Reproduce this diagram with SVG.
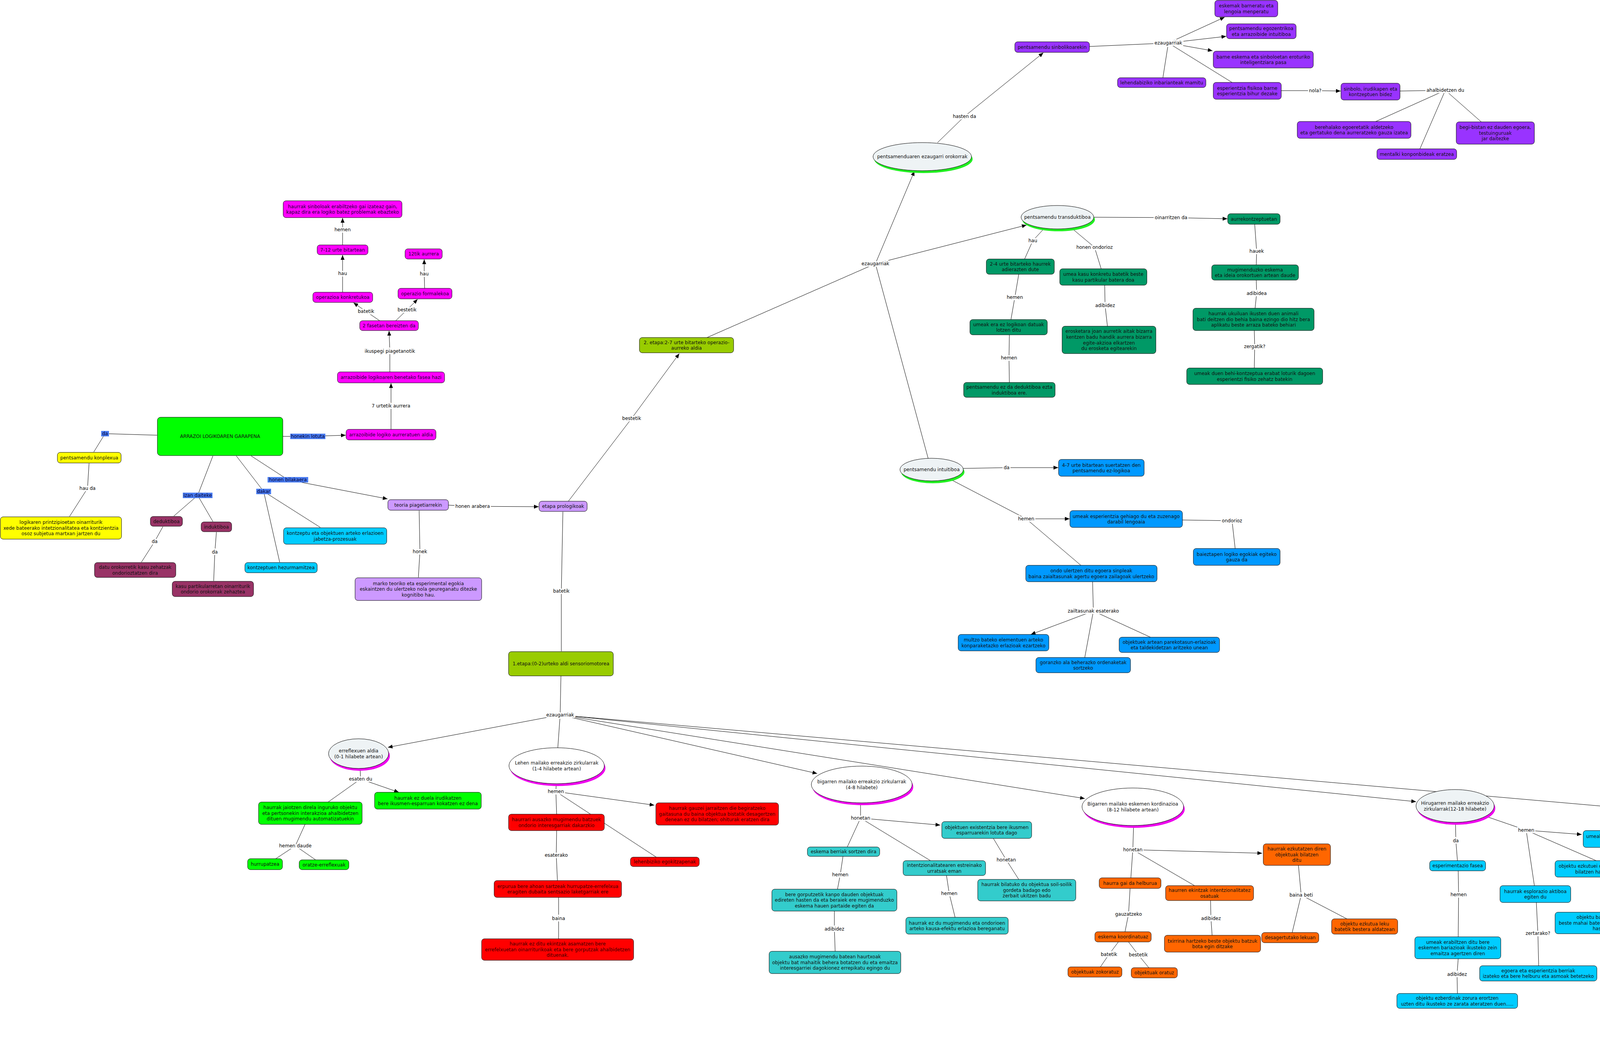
<svg xmlns="http://www.w3.org/2000/svg" width="5131" height="2703" viewBox="0 0 5131 2703">
<style>
text{font-family:"DejaVu Sans","Liberation Sans",sans-serif;font-size:12px;text-anchor:middle;fill:#111}
.b{stroke:#000;stroke-width:1}
.c path{fill:none;stroke:#000;stroke-width:1}
.c path.a{marker-end:url(#ar)}
.lb{stroke:#fff;stroke-width:7;stroke-linejoin:round;paint-order:stroke;fill:#000}
.bl{fill:#4a7cf0}
.blt{fill:#00003a}
.g1{fill:#00ff00}.yl{fill:#ffff00}.mr{fill:#993366}.cy{fill:#00ccff}.lp{fill:#cc99ff}.mg{fill:#ff00ff}
.ol{fill:#99cc00}.pu{fill:#9933ff}.dg{fill:#009966}.bu{fill:#0099ff}.rd{fill:#ff0000}.tl{fill:#33cccc}.or{fill:#ff6600}
.el{fill:#eef3f5;stroke:#000;stroke-width:1}.ew{fill:#fff;stroke:#000;stroke-width:1}
.sg{fill:#22ee22}.sm{fill:#ee00ee}
.mt{fill:#1a0033}.rt{fill:#3a0000}
</style>
<defs>
<marker id="ar" markerWidth="12" markerHeight="10" refX="12" refY="5" orient="auto" markerUnits="userSpaceOnUse"><path d="M0,0 L12,5 L0,10 z" fill="#000"/></marker>
</defs>
<rect x="0" y="0" width="5131" height="2703" fill="#fff"/>
<g id="connectors" class="c">
<path d="M402,1114 L269,1110"/><path d="M269,1110 L240,1157"/>
<path d="M228,1186 L224,1250"/><path d="M224,1250 L178,1322"/>
<path d="M724,1117 L788,1117"/><path class="a" d="M788,1117 L885,1114"/>
<path d="M545,1167 L506,1268"/><path d="M506,1268 L445,1321"/><path d="M506,1268 L545,1335"/>
<path d="M417,1348 L396,1386"/><path d="M396,1386 L362,1439"/>
<path d="M554,1362 L550,1413"/><path d="M550,1413 L547,1487"/>
<path d="M605,1167 L675,1258"/><path d="M675,1258 L716,1439"/><path d="M675,1258 L820,1350"/>
<path d="M643,1167 L737,1228"/><path class="a" d="M737,1228 L992,1277"/>
<path d="M1148,1293 L1210,1296"/><path class="a" d="M1210,1296 L1379,1297"/>
<path d="M1073,1307 L1075,1412"/><path d="M1075,1412 L1071,1478"/>
<path d="M1455,1283 L1617,1071"/><path class="a" d="M1617,1071 L1739,905"/>
<path d="M1441,1310 L1437,1513"/><path d="M1437,1513 L1437,1667"/>
<path d="M1001,1099 L1001,1039"/><path class="a" d="M1001,1039 L1001,981"/>
<path d="M998,952 L998,899"/><path class="a" d="M998,899 L996,847"/>
<path d="M972,821 L937,797"/><path class="a" d="M937,797 L905,775"/>
<path d="M1013,821 L1042,793"/><path class="a" d="M1042,793 L1069,766"/>
<path d="M877,748 L877,700"/><path class="a" d="M877,700 L877,653"/>
<path d="M1087,738 L1086,701"/><path class="a" d="M1086,701 L1086,664"/>
<path d="M877,627 L877,588"/><path class="a" d="M877,588 L877,558"/>
<path d="M1810,864 L2241,675"/><path class="a" d="M2241,675 L2341,438"/><path class="a" d="M2241,675 L2628,576"/><path d="M2241,675 L2376,1173"/>
<path d="M2400,365 L2469,298"/><path class="a" d="M2469,298 L2671,135"/>
<path d="M2789,119 L2991,110"/><path class="a" d="M2991,110 L3135,44"/><path class="a" d="M2991,110 L3139,93"/><path class="a" d="M2991,110 L3104,130"/><path d="M2991,110 L2977,199"/><path d="M2991,110 L3154,211"/>
<path d="M3280,232 L3367,232"/><path class="a" d="M3367,232 L3432,233"/>
<path d="M3584,233 L3700,231"/><path d="M3700,231 L3522,311"/><path d="M3700,231 L3635,381"/><path d="M3700,231 L3792,312"/>
<path d="M2800,556 L2998,557"/><path class="a" d="M2998,557 L3142,560"/>
<path d="M2671,587 L2644,616"/><path d="M2644,616 L2623,663"/>
<path d="M2747,587 L2802,633"/><path d="M2802,633 L2819,688"/>
<path d="M2608,702 L2598,761"/><path d="M2598,761 L2588,818"/>
<path d="M2584,857 L2583,916"/><path d="M2583,916 L2584,979"/>
<path d="M2828,730 L2829,782"/><path d="M2829,782 L2835,835"/>
<path d="M3212,574 L3217,643"/><path d="M3217,643 L3216,678"/>
<path d="M3216,717 L3217,751"/><path d="M3217,751 L3213,789"/>
<path d="M3211,846 L3212,887"/><path d="M3212,887 L3211,942"/>
<path d="M2466,1199 L2577,1197"/><path class="a" d="M2577,1197 L2709,1197"/>
<path d="M2437,1229 L2627,1328"/><path class="a" d="M2627,1328 L2738,1328"/><path d="M2627,1328 L2767,1447"/>
<path d="M3027,1331 L3154,1333"/><path d="M3154,1333 L3162,1404"/>
<path d="M2797,1489 L2799,1564"/><path class="a" d="M2799,1564 L2639,1624"/><path d="M2799,1564 L2777,1683"/><path d="M2799,1564 L2945,1631"/>
<path d="M1436,1730 L1434,1830"/><path class="a" d="M1434,1830 L993,1913"/><path d="M1434,1830 L1428,1914"/><path class="a" d="M1434,1830 L2092,1980"/><path class="a" d="M1434,1830 L2777,2044"/><path class="a" d="M1434,1830 L3625,2052"/><path class="a" d="M1434,1830 L4382,2088"/>
<path d="M922,1967 L923,1994"/><path d="M923,1994 L840,2053"/><path class="a" d="M923,1994 L1021,2028"/>
<path d="M781,2110 L756,2165"/><path d="M756,2165 L706,2198"/><path d="M756,2165 L808,2201"/>
<path d="M1424,2006 L1423,2026"/><path d="M1423,2026 L1425,2084"/><path class="a" d="M1423,2026 L1675,2061"/><path d="M1423,2026 L1680,2194"/>
<path d="M1425,2126 L1424,2189"/><path d="M1424,2189 L1427,2254"/>
<path d="M1430,2297 L1430,2351"/><path d="M1430,2351 L1430,2403"/>
<path d="M2203,2055 L2203,2094"/><path class="a" d="M2203,2094 L2407,2112"/><path d="M2203,2094 L2169,2168"/><path d="M2203,2094 L2382,2203"/>
<path d="M2543,2146 L2576,2201"/><path d="M2576,2201 L2608,2251"/>
<path d="M2158,2192 L2151,2239"/><path d="M2151,2239 L2144,2276"/>
<path d="M2423,2241 L2430,2287"/><path d="M2430,2287 L2445,2348"/>
<path d="M2136,2332 L2136,2378"/><path d="M2136,2378 L2138,2435"/>
<path d="M2902,2113 L2900,2175"/><path class="a" d="M2900,2175 L3231,2184"/><path d="M2900,2175 L2895,2247"/><path d="M2900,2175 L3058,2267"/>
<path d="M2893,2274 L2889,2340"/><path d="M2889,2340 L2880,2385"/>
<path d="M2863,2411 L2839,2443"/><path d="M2839,2443 L2817,2475"/>
<path d="M2889,2411 L2914,2444"/><path d="M2914,2444 L2941,2477"/>
<path d="M3099,2305 L3100,2351"/><path d="M3100,2351 L3103,2394"/>
<path d="M3324,2215 L3331,2291"/><path d="M3331,2291 L3308,2387"/><path d="M3331,2291 L3448,2352"/>
<path d="M3726,2105 L3727,2152"/><path d="M3727,2152 L3731,2203"/>
<path d="M3733,2229 L3734,2290"/><path d="M3734,2290 L3733,2398"/>
<path d="M3733,2454 L3730,2494"/><path d="M3730,2494 L3731,2543"/>
<path d="M3811,2092 L3907,2125"/><path class="a" d="M3907,2125 L4049,2136"/><path d="M3907,2125 L3928,2267"/><path d="M3907,2125 L4086,2203"/>
<path d="M4146,2245 L4150,2281"/><path d="M4150,2281 L4153,2335"/>
<path d="M3933,2310 L3937,2389"/><path d="M3937,2389 L3939,2472"/>
<path d="M4507,2147 L4505,2205"/><path d="M4505,2205 L4506,2269"/><path class="a" d="M4505,2205 L4701,2267"/><path class="a" d="M4505,2205 L4894,2239"/>
<path d="M4506,2296 L4505,2355"/><path d="M4505,2355 L4500,2406"/>
<path d="M4758,2296 L4769,2334"/><path d="M4769,2334 L4773,2393"/>
<path d="M4775,2435 L4775,2476"/><path d="M4775,2476 L4777,2517"/>
<path d="M4778,2560 L4778,2606"/><path d="M4778,2606 L4778,2660"/>
<path d="M5013,2272 L5012,2320"/><path d="M5012,2320 L5013,2356"/>
<path d="M5013,2424 L5012,2484"/><path d="M5012,2484 L5013,2547"/>
<path d="M5014,2586 L5014,2624"/><path d="M5014,2624 L5015,2662"/>
</g>
<g id="labels">
<text class="lb" x="224" y="1254">hau da</text>
<text class="lb" x="396" y="1390">da</text>
<text class="lb" x="550" y="1417">da</text>
<text class="lb" x="1075" y="1416">honek</text>
<text class="lb" x="1210" y="1300">honen arabera</text>
<text class="lb" x="1617" y="1075">bestetik</text>
<text class="lb" x="1437" y="1517">batetik</text>
<text class="lb" x="1001" y="1043">7 urtetik aurrera</text>
<text class="lb" x="998" y="903">ikuspegi piagetanotik</text>
<text class="lb" x="937" y="801">batetik</text>
<text class="lb" x="1042" y="797">bestetik</text>
<text class="lb" x="877" y="704">hau</text>
<text class="lb" x="1086" y="705">hau</text>
<text class="lb" x="877" y="592">hemen</text>
<text class="lb" x="2241" y="679">ezaugarriak</text>
<text class="lb" x="2469" y="302">hasten da</text>
<text class="lb" x="2991" y="114">ezaugarriak</text>
<text class="lb" x="3367" y="236">nola?</text>
<text class="lb" x="3700" y="235">ahalbidetzen du</text>
<text class="lb" x="2998" y="561">oinarritzen da</text>
<text class="lb" x="2644" y="620">hau</text>
<text class="lb" x="2802" y="637">honen ondorioz</text>
<text class="lb" x="2598" y="765">hemen</text>
<text class="lb" x="2583" y="920">hemen</text>
<text class="lb" x="2829" y="786">adibidez</text>
<text class="lb" x="3217" y="647">hauek</text>
<text class="lb" x="3217" y="755">adibidea</text>
<text class="lb" x="3212" y="891">zergatik?</text>
<text class="lb" x="2577" y="1201">da</text>
<text class="lb" x="2627" y="1332">hemen</text>
<text class="lb" x="3154" y="1337">ondorioz</text>
<text class="lb" x="2799" y="1568">zailtasunak esaterako</text>
<text class="lb" x="1434" y="1834">ezaugarriak</text>
<text class="lb" x="923" y="1998">esaten du</text>
<text class="lb" x="756" y="2169">hemen daude</text>
<text class="lb" x="1423" y="2030">hemen</text>
<text class="lb" x="1424" y="2193">esaterako</text>
<text class="lb" x="1430" y="2355">baina</text>
<text class="lb" x="2203" y="2098">honetan</text>
<text class="lb" x="2576" y="2205">honetan</text>
<text class="lb" x="2151" y="2243">hemen</text>
<text class="lb" x="2430" y="2291">hemen</text>
<text class="lb" x="2136" y="2382">adibidez</text>
<text class="lb" x="2900" y="2179">honetan</text>
<text class="lb" x="2889" y="2344">gauzatzeko</text>
<text class="lb" x="2839" y="2447">batetik</text>
<text class="lb" x="2914" y="2448">bestetik</text>
<text class="lb" x="3100" y="2355">adibidez</text>
<text class="lb" x="3331" y="2295">baina beti</text>
<text class="lb" x="3727" y="2156">da</text>
<text class="lb" x="3734" y="2294">hemen</text>
<text class="lb" x="3730" y="2498">adibidez</text>
<text class="lb" x="3907" y="2129">hemen</text>
<text class="lb" x="4150" y="2285">adibidez</text>
<text class="lb" x="3937" y="2393">zertarako?</text>
<text class="lb" x="4505" y="2209">fase honetan</text>
<text class="lb" x="4505" y="2359">hau da</text>
<text class="lb" x="4769" y="2338">honek</text>
<text class="lb" x="4775" y="2480">esaterako</text>
<text class="lb" x="4778" y="2610">honi</text>
<text class="lb" x="5012" y="2324">honetan</text>
<text class="lb" x="5012" y="2488">hau gertatzen da</text>
<text class="lb" x="5014" y="2628">ondorioz</text>
<rect class="bl" x="259" y="1103" width="20" height="14"/><text class="blt" x="269" y="1114">da</text>
<rect class="bl" x="743" y="1110" width="90" height="14"/><text class="blt" x="788" y="1121">honekin lotuta</text>
<rect class="bl" x="468" y="1261" width="76" height="14"/><text class="blt" x="506" y="1272">izan daiteke</text>
<rect class="bl" x="656" y="1251" width="38" height="14"/><text class="blt" x="675" y="1262">dakar</text>
<rect class="bl" x="685" y="1221" width="104" height="14"/><text class="blt" x="737" y="1232">honen bilakaera</text>
</g>
<g id="N1"><rect class="b g1" x="403" y="1068" width="321" height="98" rx="8"/><text x="563.5" y="1121">ARRAZOI LOGIKOAREN GARAPENA</text></g>
<g id="N2"><rect class="b yl" x="147" y="1158" width="163" height="27" rx="7"/><text x="228.5" y="1176">pentsamendu konplexua</text></g>
<g id="N3"><rect class="b yl" x="1" y="1323" width="310" height="57" rx="7"/><text x="156" y="1341.2">logikaren printzipioetan oinarriturik</text><text x="156" y="1355.8">xede bateerako intetzionalitatea eta kontzientzia</text><text x="156" y="1370.4">osoz subjetua martxan jartzen du</text></g>
<g id="N4"><rect class="b mr" x="385" y="1322" width="82" height="25" rx="7"/><text x="426" y="1339">deduktiboa</text></g>
<g id="N5"><rect class="b mr" x="515" y="1336" width="78" height="25" rx="7"/><text x="554" y="1353">induktiboa</text></g>
<g id="N6"><rect class="b mr" x="242" y="1440" width="208" height="38" rx="7"/><text x="346" y="1456">datu orokorretik kasu zehatzak</text><text x="346" y="1470.6">ondorioztatzen dira</text></g>
<g id="N7"><rect class="b mr" x="441" y="1488" width="208" height="39" rx="7"/><text x="545" y="1504.5">kasu partikularretan oinarriturik</text><text x="545" y="1519.1">ondorio orokorrak zehaztea</text></g>
<g id="N8"><rect class="b cy" x="627" y="1440" width="185" height="26" rx="7"/><text x="719.5" y="1457">kontzeptuen hezurmamitzea</text></g>
<g id="N9"><rect class="b cy" x="726" y="1351" width="264" height="42" rx="7"/><text x="858" y="1369">kontzeptu eta objektuen arteko erlazioen</text><text x="858" y="1383.6">jabetza-prozesuak</text></g>
<g id="N10"><rect class="b lp" x="993" y="1279" width="155" height="27" rx="7"/><text x="1070.5" y="1297">teoria piagetiarrekin</text></g>
<g id="N11"><rect class="b lp" x="909" y="1479" width="324" height="58" rx="7"/><text x="1071" y="1497.7">marko teoriko eta esperimental egokia</text><text x="1071" y="1512.3">eskaintzen du ulertzeko nola geureganatu ditezke</text><text x="1071" y="1526.9">kognitibo hau.</text></g>
<g id="N12"><rect class="b lp" x="1380" y="1283" width="123" height="26" rx="7"/><text x="1441.5" y="1300">etapa prologikoak</text></g>
<g id="M1"><rect class="b mg" x="886" y="1099" width="230" height="27" rx="7"/><text class="mt" x="1001" y="1117">arrazoibide logiko aurreratuen aldia</text></g>
<g id="M2"><rect class="b mg" x="864" y="952" width="274" height="28" rx="7"/><text class="mt" x="1001" y="970">arrazoibide logikoaren benetako fasea hazi</text></g>
<g id="M3"><rect class="b mg" x="921" y="821" width="150" height="25" rx="7"/><text class="mt" x="996" y="838">2 fasetan bereizten da</text></g>
<g id="M4"><rect class="b mg" x="801" y="748" width="153" height="26" rx="7"/><text class="mt" x="877.5" y="765">operazioa konkretukoa</text></g>
<g id="M5"><rect class="b mg" x="1019" y="738" width="138" height="27" rx="7"/><text class="mt" x="1088" y="756">operazio formalekoa</text></g>
<g id="M6"><rect class="b mg" x="812" y="627" width="130" height="25" rx="7"/><text class="mt" x="877" y="644">7-12 urte bitartean</text></g>
<g id="M7"><rect class="b mg" x="1037" y="637" width="95" height="26" rx="7"/><text class="mt" x="1084.5" y="654">12tik aurrera</text></g>
<g id="M8"><rect class="b mg" x="725" y="514" width="304" height="43" rx="7"/><text class="mt" x="877" y="532.5">haurrak sinboloak erabiltzeko gai izateaz gain,</text><text class="mt" x="877" y="547.1">kapaz dira era logiko batez problemak ebazteko</text></g>
<g id="S2"><rect class="b ol" x="1637" y="864" width="241" height="39" rx="7"/><text x="1757.5" y="880.5">2. etapa:2-7 urte bitarteko operazio-</text><text x="1757.5" y="895.1">aurreko aldia</text></g>
<g id="S1"><rect class="b ol" x="1302" y="1668" width="268" height="62" rx="7"/><text x="1436" y="1703">1.etapa:(0-2)urteko aldi sensoriomotorea</text></g>
<g id="P0"><ellipse class="sg" cx="2364" cy="407" rx="126" ry="36"/><ellipse class="el" cx="2361" cy="401" rx="126" ry="36"/><text x="2361" y="405">pentsamenduaren ezaugarri orokorrak</text></g>
<g id="P1"><rect class="b pu" x="2598" y="107" width="191" height="27" rx="7"/><text x="2693.5" y="125">pentsamendu sinbolikoarekin</text></g>
<g id="P2"><rect class="b pu" x="3110" y="1" width="161" height="42" rx="7"/><text x="3190.5" y="19">eskemak barneratu eta</text><text x="3190.5" y="33.6">lengoia menperatu</text></g>
<g id="P3"><rect class="b pu" x="3140" y="61" width="178" height="38" rx="7"/><text x="3229" y="77">pentsamendu egozentrikoa</text><text x="3229" y="91.6">eta arrazoibide intuitiboa</text></g>
<g id="P4"><rect class="b pu" x="3106" y="131" width="256" height="43" rx="7"/><text x="3234" y="149.5">barne eskema eta sinboloetan eroturiko</text><text x="3234" y="164.1">inteligentziara pasa</text></g>
<g id="P5"><rect class="b pu" x="2861" y="199" width="226" height="25" rx="7"/><text x="2974" y="216">lehendabiziko inbarianteak mamitu</text></g>
<g id="P6"><rect class="b pu" x="3106" y="211" width="174" height="43" rx="7"/><text x="3193" y="229.5">esperientzia fisikoa barne</text><text x="3193" y="244.1">esperientzia bihur dezake</text></g>
<g id="P7"><rect class="b pu" x="3433" y="213" width="151" height="43" rx="7"/><text x="3508.5" y="231.5">sinbolo, irudikapen eta</text><text x="3508.5" y="246.1">kontzeptuen bidez</text></g>
<g id="P8"><rect class="b pu" x="3321" y="311" width="291" height="43" rx="7"/><text x="3466.5" y="329.5">berehalako egoeretatik aldetzeko</text><text x="3466.5" y="344.1">eta gertatuko dena aurreratzeko gauza izatea</text></g>
<g id="P9"><rect class="b pu" x="3525" y="381" width="204" height="27" rx="7"/><text x="3627" y="399">mentalki konponbideak eratzea</text></g>
<g id="P10"><rect class="b pu" x="3728" y="312" width="200" height="57" rx="7"/><text x="3828" y="330.2">begi-bistan ez dauden egoera,</text><text x="3828" y="344.8">testuinguruak</text><text x="3828" y="359.4">jar daitezke</text></g>
<g id="T0"><ellipse class="sg" cx="2710" cy="562" rx="93" ry="30"/><ellipse class="el" cx="2707" cy="556" rx="93" ry="30"/><text x="2707" y="560">pentsamendu transduktiboa</text></g>
<g id="T1"><rect class="b dg" x="3143" y="547" width="134" height="27" rx="7"/><text x="3210" y="565">aurrekontzeptuetan</text></g>
<g id="T2"><rect class="b dg" x="3102" y="678" width="222" height="39" rx="7"/><text x="3213" y="694.5">mugimenduzko eskema</text><text x="3213" y="709.1">eta ideia orokortuen artean daude</text></g>
<g id="T3"><rect class="b dg" x="3054" y="789" width="310" height="57" rx="7"/><text x="3209" y="807.2">haurrak ukuiluan ikusten duen animali</text><text x="3209" y="821.8">bati deitzen dio behia baina ezingo dio hitz bera</text><text x="3209" y="836.4">aplikatu beste arraza bateko behiari</text></g>
<g id="T4"><rect class="b dg" x="3038" y="942" width="348" height="42" rx="7"/><text x="3212" y="960">umeak duen behi-kontzeptua erabat loturik dagoen</text><text x="3212" y="974.6">esperientzi fisiko zehatz batekin</text></g>
<g id="T5"><rect class="b dg" x="2525" y="663" width="174" height="39" rx="7"/><text x="2612" y="679.5">2-4 urte bitarteko haurrek</text><text x="2612" y="694.1">adierazten dute</text></g>
<g id="T6"><rect class="b dg" x="2483" y="818" width="198" height="39" rx="7"/><text x="2582" y="834.5">umeak era ez logikoan datuak</text><text x="2582" y="849.1">lotzen ditu</text></g>
<g id="T7"><rect class="b dg" x="2467" y="979" width="234" height="38" rx="7"/><text x="2584" y="995">pentsamendu ez da deduktiboa ezta</text><text x="2584" y="1009.6">induktiboa ere.</text></g>
<g id="T8"><rect class="b dg" x="2713" y="688" width="223" height="42" rx="7"/><text x="2824.5" y="706">umea kasu konkretu batetik beste</text><text x="2824.5" y="720.6">kasu partikular batera doa</text></g>
<g id="T9"><rect class="b dg" x="2719" y="835" width="240" height="70" rx="7"/><text x="2839" y="852.4">erosketara joan aurretik aitak bizarra</text><text x="2839" y="867">kentzen badu handik aurrera bizarra</text><text x="2839" y="881.6">egite-akzioa elkartzen</text><text x="2839" y="896.2">du erosketa egitearekin</text></g>
<g id="I0"><ellipse class="sg" cx="2388" cy="1208" rx="81" ry="29"/><ellipse class="el" cx="2385" cy="1202" rx="81" ry="29"/><text x="2385" y="1206">pentsamendu intuitiboa</text></g>
<g id="I1"><rect class="b bu" x="2710" y="1176" width="219" height="43" rx="7"/><text x="2819.5" y="1194.5">4-7 urte bitartean suertatzen den</text><text x="2819.5" y="1209.1">pentsamendu ez-logikoa</text></g>
<g id="I2"><rect class="b bu" x="2739" y="1307" width="288" height="43" rx="7"/><text x="2883" y="1325.5">umeak esperientzia gehiago du eta zuzenago</text><text x="2883" y="1340.1">darabil lengoaia</text></g>
<g id="I3"><rect class="b bu" x="3055" y="1404" width="222" height="43" rx="7"/><text x="3166" y="1422.5">baieztapen logiko egokiak egiteko</text><text x="3166" y="1437.1">gauza da</text></g>
<g id="I4"><rect class="b bu" x="2626" y="1447" width="336" height="42" rx="7"/><text x="2794" y="1465">ondo ulertzen ditu egoera sinpleak</text><text x="2794" y="1479.6">baina zaialtasunak agertu egoera zailagoak ulertzeko</text></g>
<g id="I5"><rect class="b bu" x="2453" y="1624" width="232" height="42" rx="7"/><text x="2569" y="1642">multzo bateko elementuen arteko</text><text x="2569" y="1656.6">konparaketazko erlazioak ezartzeko</text></g>
<g id="I6"><rect class="b bu" x="2652" y="1683" width="242" height="39" rx="7"/><text x="2773" y="1699.5">goranzko ala beherazko ordenaketak</text><text x="2773" y="1714.1">sortzeko</text></g>
<g id="I7"><rect class="b bu" x="2865" y="1631" width="257" height="39" rx="7"/><text x="2993.5" y="1647.5">objektuek artean parekotasun-erlazioak</text><text x="2993.5" y="1662.1">eta taldekidetzan aritzeko unean</text></g>
<g id="E1"><ellipse class="sm" cx="921" cy="1935" rx="77" ry="38"/><ellipse class="el" cx="918" cy="1929" rx="77" ry="38"/><text x="918" y="1926">erreflexuen aldia</text><text x="918" y="1940.6">(0-1 hilabete artean)</text></g>
<g id="E2"><rect class="b g1" x="662" y="2053" width="265" height="57" rx="7"/><text x="794.5" y="2071.2">haurrak jaiotzen direla inguruko objektu</text><text x="794.5" y="2085.8">eta pertsonekin interakzioa ahalbidetzen</text><text x="794.5" y="2100.4">dituen mugimendu automatizatuekin</text></g>
<g id="E3"><rect class="b g1" x="959" y="2028" width="273" height="43" rx="7"/><text x="1095.5" y="2046.5">haurrak ez duela irudikatzen</text><text x="1095.5" y="2061.1">bere ikusmen-esparruan kokatzen ez dena</text></g>
<g id="E4"><rect class="b g1" x="634" y="2198" width="89" height="28" rx="7"/><text x="678.5" y="2216">hurrupatzea</text></g>
<g id="E5"><rect class="b g1" x="766" y="2201" width="127" height="25" rx="7"/><text x="829.5" y="2218">oratze-erreflexuak</text></g>
<g id="L1"><ellipse class="sm" cx="1428" cy="1966" rx="122" ry="46"/><ellipse class="ew" cx="1425" cy="1960" rx="122" ry="46"/><text x="1425" y="1957">Lehen mailako erreakzio zirkularrak</text><text x="1425" y="1971.6">(1-4 hilabete artean)</text></g>
<g id="L2"><rect class="b rd" x="1302" y="2084" width="245" height="42" rx="7"/><text class="rt" x="1424.5" y="2102">haurrari ausazko mugimendu batzuek</text><text class="rt" x="1424.5" y="2116.6">ondorio interesgarriak dakarzkio</text></g>
<g id="L3"><rect class="b rd" x="1265" y="2254" width="326" height="43" rx="7"/><text class="rt" x="1428" y="2272.5">erpurua bere ahoan sartzeak hurrupatze-errefelxua</text><text class="rt" x="1428" y="2287.1">eragiten dubaita sentsazio laketgarriak ere</text></g>
<g id="L4"><rect class="b rd" x="1233" y="2403" width="389" height="55" rx="7"/><text class="rt" x="1427.5" y="2420.2">haurrak ez ditu ekintzak asamatzen bere</text><text class="rt" x="1427.5" y="2434.8">errefelxuetan oinarriturikoak eta bere gorputzak ahalbidetzen</text><text class="rt" x="1427.5" y="2449.4">dituenak.</text></g>
<g id="L5"><rect class="b rd" x="1679" y="2055" width="314" height="57" rx="7"/><text class="rt" x="1836" y="2073.2">haurrak gauzei jarraitzen die begiratzeko</text><text class="rt" x="1836" y="2087.8">gaitasuna du baina objektua bistatik desagertzen</text><text class="rt" x="1836" y="2102.4">denean ez du bilatzen; ohiturak eratzen dira</text></g>
<g id="L6"><rect class="b rd" x="1614" y="2194" width="176" height="24" rx="7"/><text class="rt" x="1702" y="2210">lehenbiziko egokitzapenak</text></g>
<g id="B1"><ellipse class="sm" cx="2209" cy="2014" rx="129" ry="47"/><ellipse class="ew" cx="2206" cy="2008" rx="129" ry="47"/><text x="2206" y="2005">bigarren mailako erreakzio zirkularrak</text><text x="2206" y="2019.6">(4-8 hilabete)</text></g>
<g id="B2"><rect class="b tl" x="2067" y="2168" width="185" height="24" rx="7"/><text x="2159.5" y="2184">eskema berriak sortzen dira</text></g>
<g id="B3"><rect class="b tl" x="2312" y="2203" width="211" height="38" rx="7"/><text x="2417.5" y="2219">intentzionalitatearen estreinako</text><text x="2417.5" y="2233.6">urratsak eman</text></g>
<g id="B4"><rect class="b tl" x="2411" y="2103" width="230" height="43" rx="7"/><text x="2526" y="2121.5">objektuen existentzia bere ikusmen</text><text x="2526" y="2136.1">esparruarekin lotuta dago</text></g>
<g id="B5"><rect class="b tl" x="2503" y="2251" width="251" height="55" rx="7"/><text x="2628.5" y="2268.2">haurrak bilatuko du objektua soil-soilik</text><text x="2628.5" y="2282.8">gordeta badago edo</text><text x="2628.5" y="2297.4">zerbait ukitzen badu</text></g>
<g id="B6"><rect class="b tl" x="1976" y="2276" width="320" height="56" rx="7"/><text x="2136" y="2293.7">bere gorputzetik kanpo dauden objektuak</text><text x="2136" y="2308.3">edireten hasten da eta beraiek ere mugimenduzko</text><text x="2136" y="2322.9">eskema hauen partaide egiten da</text></g>
<g id="B7"><rect class="b tl" x="2319" y="2348" width="262" height="43" rx="7"/><text x="2450" y="2366.5">haurrak ez du mugimendu eta ondorioen</text><text x="2450" y="2381.1">arteko kausa-efektu erlazioa bereganatu</text></g>
<g id="B8"><rect class="b tl" x="1969" y="2435" width="337" height="57" rx="7"/><text x="2137.5" y="2453.2">ausazko mugimendu batean haurtxoak</text><text x="2137.5" y="2467.8">objektu bat mahaitik behera botatzen du eta emaitza</text><text x="2137.5" y="2482.4">interesgarriei dagokionez errepikatu egingo du</text></g>
<g id="C1"><ellipse class="sm" cx="2903" cy="2071" rx="130" ry="48"/><ellipse class="ew" cx="2900" cy="2065" rx="130" ry="48"/><text x="2900" y="2062">Bigarren mailako eskemen kordinazioa</text><text x="2900" y="2076.6">(8-12 hilabete artean)</text></g>
<g id="C2"><rect class="b or" x="2814" y="2247" width="158" height="27" rx="7"/><text x="2893" y="2265">haurra gai da helburua</text></g>
<g id="C3"><rect class="b or" x="2803" y="2385" width="144" height="26" rx="7"/><text x="2875" y="2402">eskema koordinatuaz</text></g>
<g id="C4"><rect class="b or" x="2734" y="2475" width="138" height="26" rx="7"/><text x="2803" y="2492">objektuak zokoratuz</text></g>
<g id="C5"><rect class="b or" x="2896" y="2477" width="118" height="26" rx="7"/><text x="2955" y="2494">objektuak oratuz</text></g>
<g id="C6"><rect class="b or" x="2984" y="2267" width="225" height="38" rx="7"/><text x="3096.5" y="2283">haurren ekintzak intentzionalitatez</text><text x="3096.5" y="2297.6">osatuak</text></g>
<g id="C7"><rect class="b or" x="2981" y="2394" width="246" height="43" rx="7"/><text x="3104" y="2412.5">txirrina hartzeko beste objektu batzuk</text><text x="3104" y="2427.1">bota egin ditzake</text></g>
<g id="C8"><rect class="b or" x="3234" y="2160" width="172" height="55" rx="7"/><text x="3320" y="2177.2">haurrak ezkutatzen diren</text><text x="3320" y="2191.8">objektuak bilatzen</text><text x="3320" y="2206.4">ditu</text></g>
<g id="C9"><rect class="b or" x="3230" y="2387" width="146" height="26" rx="7"/><text x="3303" y="2404">desagertutako lekuan</text></g>
<g id="C10"><rect class="b or" x="3409" y="2352" width="169" height="39" rx="7"/><text x="3493.5" y="2368.5">objektu ezkutua leku</text><text x="3493.5" y="2383.1">batetik bestera aldatzean</text></g>
<g id="H1"><ellipse class="sm" cx="3728" cy="2069" rx="100" ry="42"/><ellipse class="el" cx="3725" cy="2063" rx="100" ry="42"/><text x="3725" y="2060">Hirugarren mailako erreakzio</text><text x="3725" y="2074.6">zirkularrak(12-18 hilabete)</text></g>
<g id="H2"><rect class="b cy" x="3660" y="2203" width="143" height="26" rx="7"/><text x="3731.5" y="2220">esperimentazio fasea</text></g>
<g id="H3"><rect class="b cy" x="3622" y="2398" width="220" height="56" rx="7"/><text x="3732" y="2415.7">umeak erabiltzen ditu bere</text><text x="3732" y="2430.3">eskemen bariazioak ikusteko zein</text><text x="3732" y="2444.9">emaitza agertzen diren</text></g>
<g id="H4"><rect class="b cy" x="3576" y="2543" width="309" height="38" rx="7"/><text x="3730.5" y="2559">objektu ezberdinak zorura erortzen</text><text x="3730.5" y="2573.6">uzten ditu ikusteko ze zarata ateratzen duen.....</text></g>
<g id="H5"><rect class="b cy" x="4053" y="2126" width="221" height="43" rx="7"/><text x="4163.5" y="2144.5">umeak desplazamendu ikusezinak</text><text x="4163.5" y="2159.1">ezin ditu imajinatu</text></g>
<g id="H6"><rect class="b cy" x="3981" y="2203" width="323" height="42" rx="7"/><text x="4142.5" y="2221">objektu ezkutuei dagokionez,umea objektu gordea</text><text x="4142.5" y="2235.6">bilatzen hasten da mugitzen denean</text></g>
<g id="H7"><rect class="b cy" x="3981" y="2335" width="346" height="55" rx="7"/><text x="4154" y="2352.2">objektu bat mahai azpian gorde ostean</text><text x="4154" y="2366.8">beste mahai batera pasatzean,azken honetan bilatzen</text><text x="4154" y="2381.4">hasiko da eta ez hasieran</text></g>
<g id="H8"><rect class="b cy" x="3840" y="2267" width="181" height="43" rx="7"/><text x="3930.5" y="2285.5">haurrak esplorazio aktiboa</text><text x="3930.5" y="2300.1">egiten du</text></g>
<g id="H9"><rect class="b cy" x="3788" y="2472" width="300" height="39" rx="7"/><text x="3938" y="2488.5">egoera eta esperientzia berriak</text><text x="3938" y="2503.1">izateko eta bere helburu eta asmoak betetzeko</text></g>
<g id="R1"><ellipse class="sm" cx="4511" cy="2106" rx="125" ry="47"/><ellipse class="el" cx="4508" cy="2100" rx="125" ry="47"/><text x="4508" y="2097">Barne errepresentazioen hastapenak</text><text x="4508" y="2111.6">(18-24 hilabete artean)</text></g>
<g id="R2"><rect class="b lp" x="4363" y="2269" width="284" height="27" rx="7"/><text x="4505" y="2287">funtzio sinboliko edo semiotikoa agertzen da</text></g>
<g id="R3"><rect class="b lp" x="4652" y="2269" width="201" height="27" rx="7"/><text x="4752.5" y="2287">jokabide berri bat agertuko da</text></g>
<g id="R4"><rect class="b lp" x="4897" y="2230" width="231" height="42" rx="7"/><text x="5012.5" y="2248">objektuen iraunkortasun printzipioa</text><text x="5012.5" y="2262.6">bereganatzen du</text></g>
<g id="R5"><rect class="b lp" x="4349" y="2406" width="297" height="54" rx="7"/><text x="4497.5" y="2422.7">pentsamendu eta lengoiaren bidez objektuen</text><text x="4497.5" y="2437.3">barne errepresentazioak erabiltzeko gaitasuna</text><text x="4497.5" y="2451.9">izaten dute.</text></g>
<g id="R6"><rect class="b lp" x="4674" y="2393" width="200" height="42" rx="7"/><text x="4774" y="2411">lehenago gertaturiko akzioak</text><text x="4774" y="2425.6">errepikatzeko gauza izango da</text></g>
<g id="R7"><rect class="b lp" x="4693" y="2517" width="170" height="43" rx="7"/><text x="4778" y="2535.5">moselo ausenteak imitatu</text><text x="4778" y="2550.1">ahal izango ditu</text></g>
<g id="R8"><rect class="b lp" x="4693" y="2660" width="170" height="26" rx="7"/><text x="4778" y="2677">imitazio geroratua deritzo</text></g>
<g id="R9"><rect class="b lp" x="4897" y="2356" width="231" height="68" rx="7"/><text x="5012.5" y="2372.4">haurrak irudika ditzake begi bistan</text><text x="5012.5" y="2387">ez dauden objektuak baita beraiek</text><text x="5012.5" y="2401.6">egin  ditzaken ibilbide</text><text x="5012.5" y="2416.2">ikusezinak ere</text></g>
<g id="R10"><rect class="b lp" x="4901" y="2547" width="223" height="39" rx="7"/><text x="5012.5" y="2563.5">haurra funtzio sinbolikoa garatzen</text><text x="5012.5" y="2578.1">hasi delako</text></g>
<g id="R11"><rect class="b lp" x="4916" y="2662" width="199" height="38" rx="7"/><text x="5015.5" y="2678">objektu eta jazoera ausenteak</text><text x="5015.5" y="2692.6">irudikatzeko ahalmena du.</text></g>
</svg>
